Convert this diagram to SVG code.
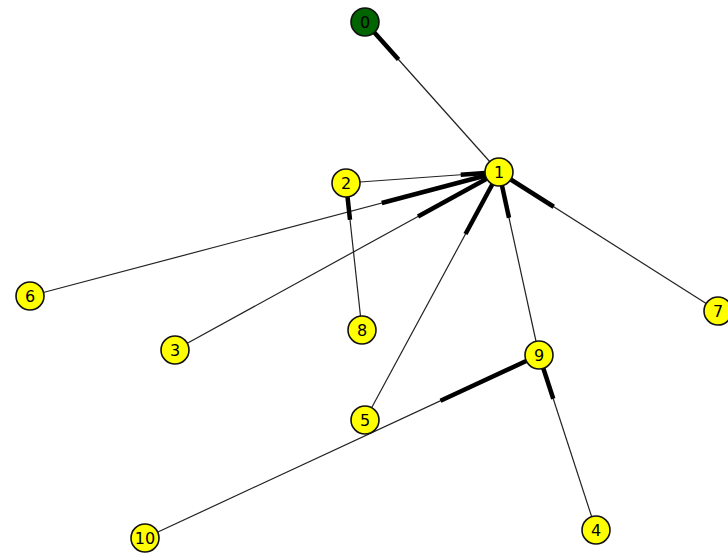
<svg xmlns="http://www.w3.org/2000/svg" width="728" height="558" viewBox="0 0 728 558">
<style>
.e{stroke:#222;stroke-width:1.2;fill:none}
.a{stroke:#000;stroke-width:4.5;stroke-linecap:butt}
.n{fill:#ffff00;stroke:#111;stroke-width:1.6}
.g{fill:#006400;stroke:#111;stroke-width:1.6}
text{font-family:"DejaVu Sans","Liberation Sans",sans-serif;font-size:16px;text-anchor:middle;dominant-baseline:central;fill:#000}
</style>
<rect width="728" height="558" fill="#fff"/>
<g id="edges">
<line class="e" x1="499" y1="172" x2="365" y2="22"/><line class="a" x1="398.5" y1="59.5" x2="365" y2="22"/>
<line class="e" x1="346" y1="183" x2="499" y2="172"/><line class="a" x1="460.75" y1="174.75" x2="499" y2="172"/>
<line class="e" x1="30" y1="296" x2="499" y2="172"/><line class="a" x1="381.75" y1="203" x2="499" y2="172"/>
<line class="e" x1="175" y1="350" x2="499" y2="172"/><line class="a" x1="418" y1="216.5" x2="499" y2="172"/>
<line class="e" x1="362" y1="330" x2="346" y2="183"/><line class="a" x1="350" y1="219.75" x2="346" y2="183"/>
<line class="e" x1="365" y1="420" x2="499" y2="172"/><line class="a" x1="465.5" y1="234" x2="499" y2="172"/>
<line class="e" x1="539" y1="355" x2="499" y2="172"/><line class="a" x1="509" y1="217.75" x2="499" y2="172"/>
<line class="e" x1="718" y1="311" x2="499" y2="172"/><line class="a" x1="553.75" y1="206.75" x2="499" y2="172"/>
<line class="e" x1="145" y1="538" x2="539" y2="355"/><line class="a" x1="440.5" y1="400.75" x2="539" y2="355"/>
<line class="e" x1="596" y1="530" x2="539" y2="355"/><line class="a" x1="553.25" y1="398.75" x2="539" y2="355"/>
</g>
<g id="n0"><circle class="g" cx="365" cy="22" r="14"/><text x="365" y="22">0</text></g>
<g id="n1"><circle class="n" cx="499" cy="172" r="14"/><text x="499" y="172">1</text></g>
<g id="n2"><circle class="n" cx="346" cy="183" r="14"/><text x="346" y="183">2</text></g>
<g id="n3"><circle class="n" cx="175" cy="350" r="14"/><text x="175" y="350">3</text></g>
<g id="n4"><circle class="n" cx="596" cy="530" r="14"/><text x="596" y="530">4</text></g>
<g id="n5"><circle class="n" cx="365" cy="420" r="14"/><text x="365" y="420">5</text></g>
<g id="n6"><circle class="n" cx="30" cy="296" r="14"/><text x="30" y="296">6</text></g>
<g id="n7"><circle class="n" cx="718" cy="311" r="14"/><text x="718" y="311">7</text></g>
<g id="n8"><circle class="n" cx="362" cy="330" r="14"/><text x="362" y="330">8</text></g>
<g id="n9"><circle class="n" cx="539" cy="355" r="14"/><text x="539" y="355">9</text></g>
<g id="n10"><circle class="n" cx="145" cy="538" r="14"/><text x="145" y="538">10</text></g>
</svg>
